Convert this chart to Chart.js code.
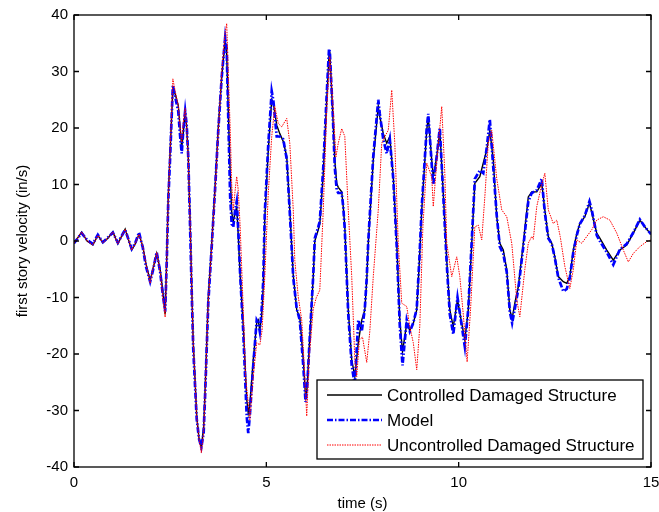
<!DOCTYPE html>
<html>
<head>
<meta charset="utf-8">
<script src="https://cdn.jsdelivr.net/npm/chart.js@4.4.1/dist/chart.umd.min.js"></script>
<style>
  html, body { margin: 0; padding: 0; background: #fff; }
  #wrap { width: 659px; height: 512px; }
</style>
</head>
<body>
<div id="wrap"><canvas id="velocity"></canvas></div>
<script>
// time (s) shared by the controlled structure and the model
const time = [0, 0.20, 0.34, 0.49, 0.62, 0.75, 0.88, 1.01, 1.14, 1.33, 1.50, 1.59, 1.69, 1.79, 1.87, 1.98, 2.05, 2.15, 2.24, 2.31,
  2.37, 2.41, 2.45, 2.50, 2.57, 2.63, 2.71, 2.76, 2.80, 2.84, 2.89, 2.93, 2.97, 3.02, 3.06, 3.10, 3.15, 3.19, 3.25, 3.31,
  3.37, 3.41, 3.45, 3.49, 3.58, 3.67, 3.75, 3.84, 3.93, 3.97, 4.01, 4.06, 4.10, 4.14, 4.19, 4.23, 4.27, 4.32, 4.40, 4.49,
  4.53, 4.57, 4.66, 4.75, 4.79, 4.83, 4.88, 4.92, 4.96, 5.05, 5.14, 5.18, 5.27, 5.35, 5.44, 5.53, 5.61, 5.70, 5.79, 5.87,
  5.96, 6.02, 6.06, 6.13, 6.22, 6.26, 6.35, 6.39, 6.48, 6.57, 6.63, 6.65, 6.73, 6.78, 6.83, 6.87, 6.96, 7.00, 7.04, 7.13,
  7.22, 7.30, 7.39, 7.48, 7.56, 7.61, 7.65, 7.78, 7.91, 7.95, 8.04, 8.13, 8.21, 8.30, 8.39, 8.47, 8.54, 8.65, 8.73, 8.82,
  8.91, 8.98, 9.04, 9.17, 9.21, 9.30, 9.34, 9.43, 9.51, 9.60, 9.69, 9.77, 9.86, 9.97, 10.08, 10.16, 10.25, 10.34, 10.42, 10.55,
  10.64, 10.73, 10.81, 10.90, 10.99, 11.07, 11.16, 11.25, 11.33, 11.39, 11.46, 11.55, 11.68, 11.81, 11.90, 12.03, 12.16, 12.24, 12.33, 12.42,
  12.50, 12.59, 12.72, 12.81, 12.89, 12.98, 13.07, 13.15, 13.28, 13.40, 13.46, 13.59, 13.67, 13.85, 14.02, 14.19, 14.37, 14.54, 14.71, 14.84,
  15.00];

const controlled = [-0.4, 1.6, 0, -0.7, 1, -0.3, 0.5, 1.6, -0.5, 2.1, -1.6, -0.5, 1.2, -1, -4, -7, -5, -2.2, -5, -9,
  -13, -3, 8, 16, 27, 26, 24, 20, 16.5, 19, 23, 20, 15, 3, -8, -18, -25, -31, -35, -36.5,
  -33, -26, -18, -10, -0.4, 10, 20, 29, 35.5, 33, 23, 12, 5, 3.5, 5, 6, 1, -6.3, -15, -28,
  -30.5, -29, -21, -14.5, -14, -15.8, -13, -8, 4, 16, 25, 24.5, 20.5, 19, 17.6, 15, 5.5, -6, -12.2, -13.5,
  -21, -27.5, -26, -17, -6.3, 0, 2, 3, 12, 25, 33, 33.5, 22, 14.3, 10.2, 9.5, 8.7, 6, 2.5, -12.2,
  -21, -24, -18, -14, -12.2, -7, -0.4, 14.3, 23.8, 22, 19, 17.3, 18.5, 11.4, -0.4, -14, -19.6, -14.6, -15.8, -14.6,
  -12.2, -3.4, 5.5, 19.6, 22, 14.3, 11.4, 14.9, 19.6, 8.4, -3.4, -12.2, -15.2, -10.4, -14.6, -17.5, -12.2, -0.4, 10.2, 11.4,
  13.8, 16.1, 19.6, 14.3, 4.3, -0.4, -1.6, -5.1, -12.2, -13.8, -11, -8.1, -0.4, 7.8, 8.7, 8.7, 10.2, 5.5, 0.8, -0.4,
  -2.8, -6.3, -7.2, -7.5, -6.3, -1.6, 1.3, 3.1, 4.3, 6.7, 5, 1.4, 0.5, -1.6, -3.4, -1.6, -0.7, 1.4, 3.7, 2.5,
  1.2];

const model = [-0.4, 1.4, 0.2, -0.5, 1.1, -0.2, 0.6, 1.5, -0.3, 2, -1.4, -0.4, 1.5, -1.2, -4.5, -7.2, -5.3, -2, -5.5, -9.5,
  -12.5, -4, 7, 15, 27.5, 25.5, 23, 18.5, 15.5, 19.5, 23, 20.5, 15, 2, -9, -19, -26, -31.5, -35, -36.5,
  -34, -27, -19, -11, -1, 9.5, 19.5, 29, 36, 34, 22, 7.8, 3, 2.5, 5.5, 7, 2, -6, -16, -31,
  -34, -31, -22, -14, -14.5, -16, -12, -7, 5, 17, 26.5, 25, 18.5, 18.5, 18, 14.5, 5, -6.5, -12, -14,
  -22, -28.5, -26, -17, -6, 0.5, 2.5, 3.5, 13, 26, 34, 33.5, 22, 13, 9, 8.5, 8.5, 6, 2, -13,
  -22, -25.5, -14, -16, -12, -6.5, 0, 15, 25, 22.5, 18, 15.5, 18, 11, -1, -15, -22, -14, -16, -14.5,
  -12, -3, 6, 20, 22.5, 13.5, 10, 15, 20, 8, -4, -13, -16.5, -10, -15, -18.7, -12, 0, 11, 12.5,
  12, 16.5, 21.5, 13, 4.5, -1, -2.3, -5.5, -12.5, -14.5, -12, -8.5, -1, 7, 8.5, 9, 11, 5, 0.5, -0.5,
  -3, -6.5, -8.9, -8.5, -6.5, -2, 1, 3, 4.5, 7, 5.5, 1, 0, -2, -4.2, -1.5, -0.5, 1.5, 3.8, 2.5,
  1.2];

// uncontrolled damaged structure, its own time base
const uncTime = [0, 0.20, 0.34, 0.49, 0.62, 0.75, 0.88, 1.01, 1.14, 1.33, 1.50, 1.59, 1.69, 1.79, 1.87, 1.98, 2.05, 2.15, 2.24, 2.31,
  2.37, 2.41, 2.45, 2.50, 2.57, 2.63, 2.71, 2.76, 2.80, 2.84, 2.89, 2.93, 2.97, 3.02, 3.06, 3.10, 3.15, 3.19, 3.25, 3.31,
  3.37, 3.41, 3.45, 3.49, 3.58, 3.67, 3.75, 3.84, 3.93, 3.97, 4.01, 4.06, 4.10, 4.14, 4.19, 4.23, 4.27, 4.32, 4.40, 4.46,
  4.55, 4.57, 4.66, 4.75, 4.83, 4.89, 4.96, 5.05, 5.14, 5.22, 5.31, 5.40, 5.53, 5.61, 5.70, 5.74, 5.83, 5.92, 6.00, 6.05,
  6.11, 6.22, 6.30, 6.39, 6.48, 6.57, 6.65, 6.74, 6.81, 6.87, 6.96, 7.04, 7.13, 7.22, 7.30, 7.35, 7.42, 7.50, 7.61, 7.69,
  7.78, 7.91, 8.00, 8.08, 8.17, 8.26, 8.34, 8.43, 8.52, 8.65, 8.73, 8.82, 8.91, 8.99, 9.07, 9.17, 9.30, 9.34, 9.43, 9.56,
  9.64, 9.69, 9.82, 9.95, 10.03, 10.12, 10.22, 10.31, 10.42, 10.51, 10.60, 10.68, 10.77, 10.86, 10.99, 11.12, 11.25, 11.38, 11.51, 11.59,
  11.72, 11.81, 11.90, 11.94, 12.03, 12.16, 12.24, 12.33, 12.46, 12.55, 12.64, 12.76, 12.89, 12.98, 13.07, 13.20, 13.33, 13.46, 13.59, 13.76,
  13.93, 14.11, 14.28, 14.41, 14.54, 14.71, 14.89, 15.00];

const uncontrolled = [-0.4, 1.6, 0, -0.7, 1, -0.3, 0.5, 1.6, -0.5, 2.1, -1.6, -0.5, 1.2, -1, -4, -7.5, -5, -2, -5.5, -10,
  -13.5, -4, 7, 16, 28.7, 26.5, 24, 20, 17.5, 21, 23.5, 20, 15, 3, -8, -18, -25, -31, -35, -37.5,
  -34, -27, -19, -11, -1, 9, 19, 30, 37, 38.5, 30, 20, 10, 5.5, 9, 11.4, 9, 2.5, -12.2, -24,
  -30, -31.7, -24, -18, -18.4, -15.8, -6.3, 8.4, 18.5, 23.8, 20.8, 20.2, 21.7, 17.3, 5.5, -3.4, -9.9, -14, -24, -31,
  -21, -12, -10, -8.7, 5.5, 23.2, 32.6, 23.2, 14.9, 17.3, 19.9, 18.5, 5.5, -6.3, -21, -24, -17.5, -17, -21.5, -16,
  -6.3, 5.5, 17.3, 18.5, 19.6, 26.7, 17.3, -0.4, -11, -11.6, -15.2, -18, -22.8, -15, 2.5, 13.8, 11.3, 6.1, 14, 23.8,
  12, -0.4, -6.3, -2.8, -6.3, -13, -21.4, -12, 2.5, 2.8, 0.2, 7.8, 17.3, 19.6, 11, 5.5, 4.3, -0.4, -10.4, -13.4,
  -5, -0.4, 0.8, 0.3, 6.1, 10, 12, 5.5, 3.1, 3.7, 0.8, -4.5, -8.4, -5.1, 0.2, -0.4, 0.8, 2, 3.7, 4.3,
  3.7, 1.4, -1.6, -3.7, -2.2, -1, -0.1, 0.2];

const xTicks = [0, 5, 10, 15];
const yTicks = [-40, -30, -20, -10, 0, 10, 20, 30, 40];

const FONT = "'Liberation Sans', Arial, Helvetica, sans-serif";

const series = [
	{ label: "Controlled Damaged Structure", color: "#000000", width: 1.4, dash: [] },
	{ label: "Model", color: "#0000ff", width: 2.7, dash: [6, 2, 1.5, 2] },
	{ label: "Uncontrolled Damaged Structure", color: "#ff0000", width: 1, dash: [1.5, 1] },
];

function points(xs, ys) {
	return xs.map((x, i) => ({ x: x, y: ys[i] }));
}

// MATLAB-ish box, inward tick marks and the boxed legend
const matlabFrame = {
	id: "matlabFrame",
	afterDatasetsDraw(chart) {
		const { ctx, chartArea: a, scales } = chart;
		ctx.save();
		ctx.strokeStyle = "#000";
		ctx.lineWidth = 1.3;
		ctx.setLineDash([]);
		ctx.strokeRect(a.left, a.top, a.right - a.left, a.bottom - a.top);
		ctx.beginPath();
		yTicks.forEach((v) => {
			const y = scales.y.getPixelForValue(v);
			ctx.moveTo(a.left, y); ctx.lineTo(a.left + 5, y);
			ctx.moveTo(a.right, y); ctx.lineTo(a.right - 5, y);
		});
		xTicks.forEach((v) => {
			const x = scales.x.getPixelForValue(v);
			ctx.moveTo(x, a.bottom); ctx.lineTo(x, a.bottom - 5);
			ctx.moveTo(x, a.top); ctx.lineTo(x, a.top + 5);
		});
		ctx.stroke();

		// legend
		const lx = 317, ly = 380, lw = 326, lh = 79;
		ctx.fillStyle = "#fff";
		ctx.fillRect(lx, ly, lw, lh);
		ctx.lineWidth = 1.3;
		ctx.strokeRect(lx, ly, lw, lh);
		ctx.font = "17px " + FONT;
		ctx.textBaseline = "middle";
		ctx.textAlign = "left";
		const rows = [395, 420, 445];
		series.forEach((s, i) => {
			ctx.beginPath();
			ctx.strokeStyle = s.color;
			ctx.lineWidth = s.width;
			ctx.setLineDash(s.dash);
			ctx.moveTo(327, rows[i]);
			ctx.lineTo(382, rows[i]);
			ctx.stroke();
			ctx.setLineDash([]);
			ctx.fillStyle = "#000";
			ctx.fillText(s.label, 387, rows[i] + 1);
		});
		ctx.restore();
	},
};

new Chart(document.getElementById("velocity"), {
	type: "line",
	data: {
		datasets: [
			{ data: points(time, controlled), order: 3 },
			{ data: points(time, model), order: 2 },
			{ data: points(uncTime, uncontrolled), order: 1 },
		].map((d, i) => Object.assign(d, {
			label: series[i].label,
			borderColor: series[i].color,
			borderWidth: series[i].width,
			borderDash: series[i].dash,
			pointRadius: 0,
			tension: 0,
			fill: false,
		})),
	},
	options: {
		responsive: true,
		maintainAspectRatio: false,
		animation: false,
		layout: { padding: { left: 0, right: 8, top: 15, bottom: 0 } },
		plugins: {
			legend: { display: false },
			tooltip: { enabled: false },
		},
		scales: {
			x: {
				type: "linear",
				min: 0,
				max: 15,
				afterBuildTicks: (s) => { s.ticks = xTicks.map((v) => ({ value: v })); },
				afterFit: (s) => { s.height = 45; s.paddingLeft = 0; s.paddingRight = 0; },
				grid: { display: false, drawTicks: false },
				border: { display: false },
				ticks: { color: "#000", font: { family: FONT, size: 15 }, padding: 7, maxRotation: 0 },
				title: { display: true, text: "time (s)", color: "#000", font: { family: FONT, size: 15 }, padding: { top: 0, bottom: -1 } },
			},
			y: {
				min: -40,
				max: 40,
				afterBuildTicks: (s) => { s.ticks = yTicks.map((v) => ({ value: v })); },
				afterFit: (s) => { s.width = 74; s.paddingTop = 0; s.paddingBottom = 0; },
				grid: { display: false, drawTicks: false },
				border: { display: false },
				ticks: { color: "#000", font: { family: FONT, size: 15 }, padding: 6 },
				title: { display: true, text: "first story velocity (in/s)", color: "#000", font: { family: FONT, size: 15 }, padding: { top: 14, bottom: 0 } },
			},
		},
	},
	plugins: [matlabFrame],
});
</script>
</body>
</html>
